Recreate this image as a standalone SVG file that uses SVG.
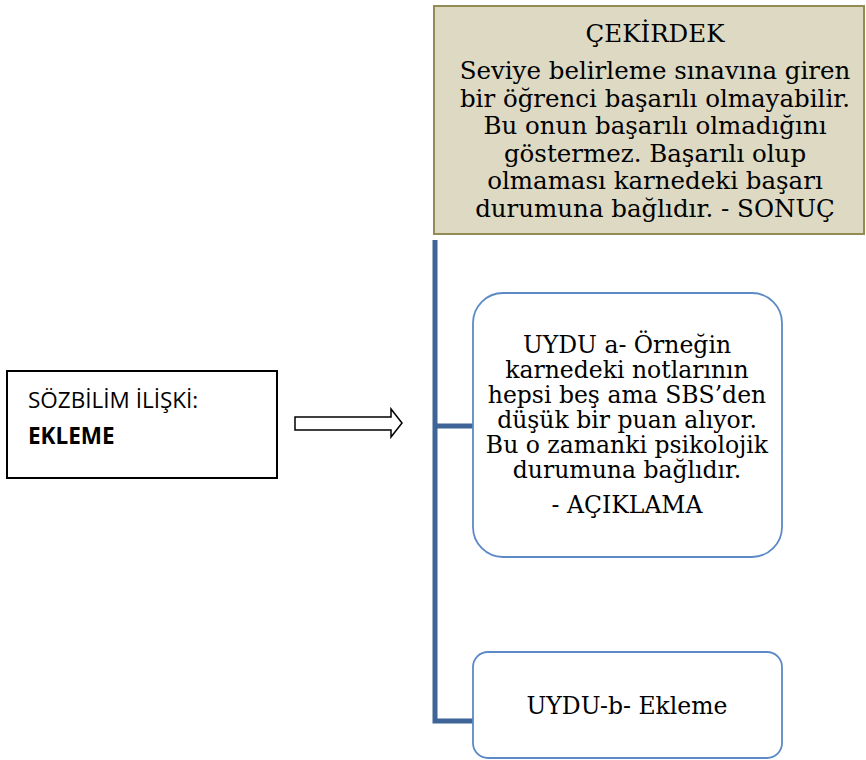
<svg xmlns="http://www.w3.org/2000/svg" width="866" height="760" viewBox="0 0 866 760">
<style>
.ser{font-family:"DejaVu Serif","Liberation Serif",serif;font-size:23.5px;fill:#000;text-anchor:middle}
.top{font-size:24.5px}
.sans{font-family:"Open Sans","Liberation Sans",sans-serif;font-size:22.5px;fill:#000}
.sat{fill:#fff;stroke:#5B8AC6;stroke-width:1.8}
</style>
<rect width="866" height="760" fill="#fff"/>
<g id="connectors" fill="none" stroke="#3F6598" stroke-width="5">
<path d="M435,240 V721 H474"/>
<path d="M435,426 H474"/>
</g>
<g id="cekirdek">
<rect x="434" y="6" width="430" height="228" fill="#DDD9C3" stroke="#948A54" stroke-width="2"/>
<text class="ser top" x="655" y="42" font-size="25.5">ÇEKİRDEK</text>
<text class="ser top" x="655" y="79">Seviye belirleme sınavına giren</text>
<text class="ser top" x="655" y="106.5">bir öğrenci başarılı olmayabilir.</text>
<text class="ser top" x="655" y="134">Bu onun başarılı olmadığını</text>
<text class="ser top" x="655" y="162">göstermez. Başarılı olup</text>
<text class="ser top" x="655" y="189">olmaması karnedeki başarı</text>
<text class="ser top" x="655" y="217">durumuna bağlıdır. - SONUÇ</text>
</g>
<g id="iliski">
<rect x="7" y="371" width="270" height="107" fill="#fff" stroke="#000" stroke-width="2"/>
<text class="sans" x="28" y="408">SÖZBİLİM İLİŞKİ:</text>
<text class="sans" x="28" y="444" font-weight="bold">EKLEME</text>
</g>
<g id="arrow">
<path d="M295,417 H391 V409 L402,423 L391,437 V430 H295 Z" fill="#fff" stroke="#000" stroke-width="1.5"/>
</g>
<g id="uydu-a">
<rect class="sat" x="473" y="293" width="309" height="264" rx="30"/>
<text class="ser" x="627" y="353">UYDU a- Örneğin</text>
<text class="ser" x="627" y="378">karnedeki notlarının</text>
<text class="ser" x="627" y="403">hepsi beş ama SBS’den</text>
<text class="ser" x="627" y="428">düşük bir puan alıyor.</text>
<text class="ser" x="627" y="453">Bu o zamanki psikolojik</text>
<text class="ser" x="627" y="478">durumuna bağlıdır.</text>
<text class="ser" x="627" y="513">- AÇIKLAMA</text>
</g>
<g id="uydu-b">
<rect class="sat" x="473" y="652" width="309" height="106" rx="15"/>
<text class="ser" x="627" y="714" font-size="26">UYDU-b- Ekleme</text>
</g>
</svg>
